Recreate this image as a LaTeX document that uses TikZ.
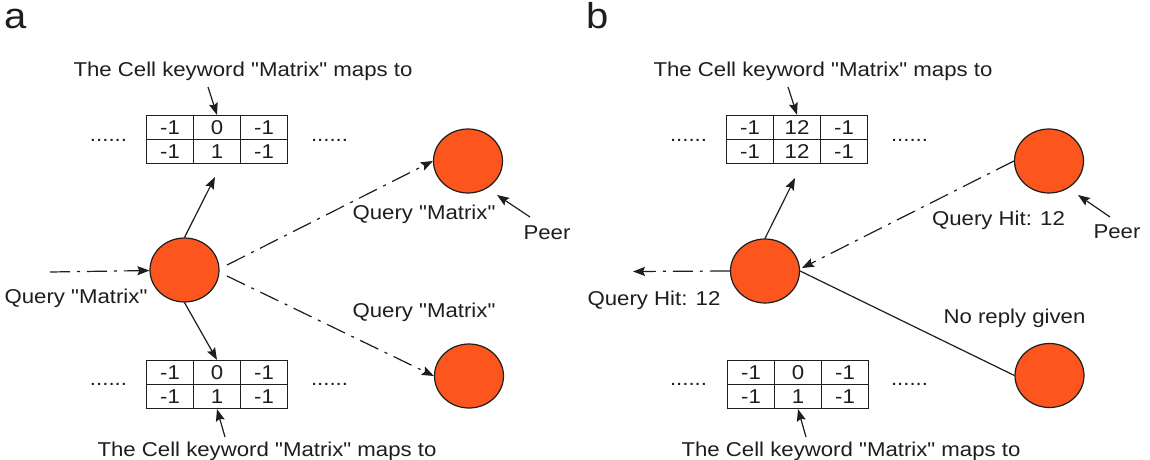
\documentclass[tikz,border=0pt]{standalone}
\usepackage{fontspec}
\setmainfont{Liberation Sans}[FakeStretch=1.11, Ligatures=TeXOff]
\usetikzlibrary{shapes.geometric,arrows.meta,matrix,calc}
\definecolor{peerfill}{RGB}{252,85,30}
\definecolor{ink}{RGB}{30,30,30}
\begin{document}
\begin{tikzpicture}[x=1pt,y=-1pt,
  lbl/.style={font=\fontsize{20}{24}\selectfont, inner sep=0pt, text=ink},
  panellbl/.style={font=\fontsize{36}{40}\selectfont, inner sep=0pt, anchor=base west, text=ink},
  peernode/.style={ellipse, draw=ink, line width=1.2pt, fill=peerfill, minimum width=69pt, minimum height=64pt, inner sep=0pt},
  conn/.style={draw=ink, line width=1.2pt, -{Stealth[length=12pt,width=9pt,inset=2pt]}},
  dd/.style={conn, dash pattern=on 20pt off 7pt on 3pt off 7pt},
  solidline/.style={draw=ink, line width=1.2pt},
  cellgrid/.style={matrix of nodes, inner sep=0pt, column sep=-1.2pt, row sep=-1.2pt,
    nodes={draw=ink, line width=1.2pt, minimum width=47pt, minimum height=24pt, inner sep=0pt,
      text=ink, font=\fontsize{20}{24}\selectfont}}
]
\fill[white] (0,0) rectangle (1150,460);
\useasboundingbox (0,0) rectangle (1150,460);

% ---------------- panel a ----------------
\node[panellbl] (labA) at (4,29) {a};
\node[lbl, anchor=base] (ta) at (243,77) {The Cell keyword "Matrix" maps to};
\matrix (gat) [cellgrid] at (217,139.5) {-1 & 0 & -1\\ -1 & 1 & -1\\};
\node[lbl, anchor=base] (dat1) at (108.5,141) {......};
\node[lbl, anchor=base] (dat2) at (329.5,141) {......};
\node[peernode] (Na) at (184.5,270) {};
\node[peernode] (Pa1) at (468,161) {};
\node[peernode] (Pa2) at (469,376) {};
\matrix (gab) [cellgrid] at (217,384.5) {-1 & 0 & -1\\ -1 & 1 & -1\\};
\node[lbl, anchor=base] (dab1) at (108.5,385.5) {......};
\node[lbl, anchor=base] (dab2) at (329.5,385.5) {......};
\node[lbl, anchor=base] (tab) at (267,456) {The Cell keyword "Matrix" maps to};
\node[lbl] (qa0) at (76,298) {Query "Matrix"};
\node[lbl] (qa1) at (424,214) {Query "Matrix"};
\node[lbl] (qa2) at (424,312) {Query "Matrix"};
\node[lbl] (peerA) at (547,233) {Peer};

\coordinate (inA) at (50,272);
\coordinate (sA1) at (227,265);
\coordinate (sA2) at (227,276);
\coordinate (tA) at (208,87);
\coordinate (upA) at (215,177);
\coordinate (bA) at (225,437);
\coordinate (pA) at (530,217);
\coordinate (pAt) at (497,195);

\draw[dd] (inA) -- (Na);
\draw[conn] (Na.north) -- (upA);
\draw[conn] (Na.south) -- (gab-1-2.north);
\draw[conn] (tA) -- (gat-1-2.north);
\draw[conn] (bA) -- (gab-2-2.south);
\draw[dd] (sA1) -- (Pa1.west);
\draw[dd] (sA2) -- (Pa2.west);
\draw[conn] (pA) -- (pAt);

% ---------------- panel b ----------------
\node[panellbl] (labB) at (586,29) {b};
\node[lbl, anchor=base] (tb) at (823,77) {The Cell keyword "Matrix" maps to};
\matrix (gbt) [cellgrid] at (797,139.5) {-1 & 12 & -1\\ -1 & 12 & -1\\};
\node[lbl, anchor=base] (dbt1) at (688.5,141) {......};
\node[lbl, anchor=base] (dbt2) at (909.5,141) {......};
\node[peernode] (Nb) at (765,271) {};
\node[peernode] (Pb1) at (1049,161) {};
\node[peernode] (Pb2) at (1049.5,375.5) {};
\matrix (gbb) [cellgrid] at (798,384.5) {-1 & 0 & -1\\ -1 & 1 & -1\\};
\node[lbl, anchor=base] (dbb1) at (688.5,385.5) {......};
\node[lbl, anchor=base] (dbb2) at (909.5,385.5) {......};
\node[lbl, anchor=base] (tbb) at (851,456) {The Cell keyword "Matrix" maps to};
\node[lbl] (qb0) at (654,300) {Query Hit: 12};
\node[lbl] (qb1) at (998.5,220) {Query Hit: 12};
\node[lbl] (peerB) at (1117,232) {Peer};
\node[lbl] (nr) at (1014.5,318) {No reply given};

\coordinate (tB) at (788,87);
\coordinate (upB) at (795,178);
\coordinate (bB) at (806,437);
\coordinate (outB) at (633,271.5);
\coordinate (inB) at (802,268);
\coordinate (pB) at (1110,217);
\coordinate (pBt) at (1078,195);

\draw[conn] (tB) -- (gbt-1-2.north);
\draw[conn] (Nb.north) -- (upB);
\draw[conn] (bB) -- (gbb-2-2.south);
\draw[dd] (Nb.west) -- (outB);
\draw[dd] (Pb1.west) -- (inB);
\draw[solidline] (Nb.east) -- (Pb2.west);
\draw[conn] (pB) -- (pBt);
\end{tikzpicture}
\end{document}
